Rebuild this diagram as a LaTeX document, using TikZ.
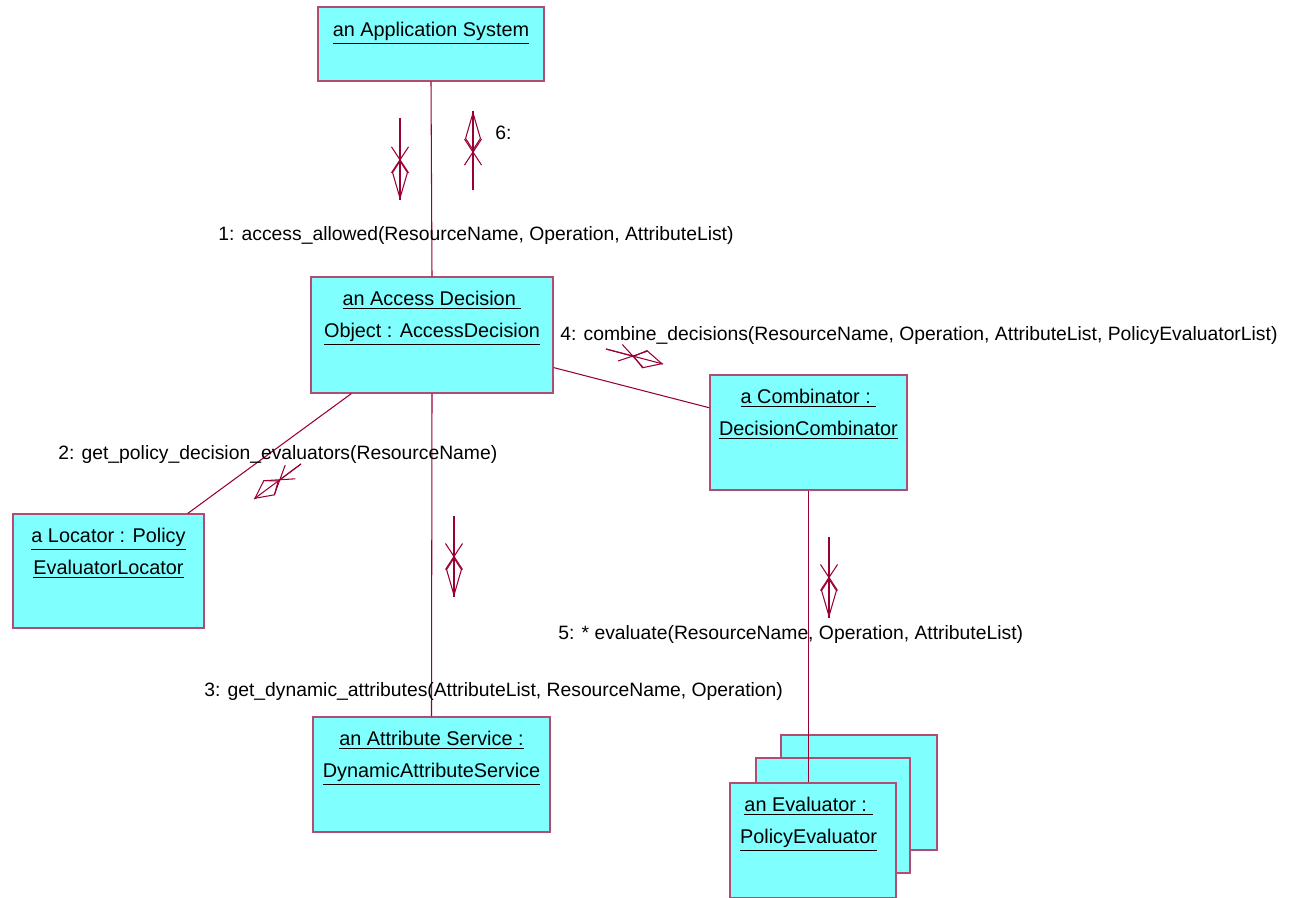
\documentclass[tikz,border=0pt]{standalone}
\usepackage{fontspec}
\setmainfont{Liberation Sans}
\usepackage{tikz}
\usetikzlibrary{arrows.meta, positioning, shapes.misc}
\definecolor{umlFill}{RGB}{128, 255, 255}
\definecolor{umlLine}{RGB}{153, 0, 51}
\definecolor{umlEdge}{RGB}{180, 75, 115}

\begin{document}
\begin{tikzpicture}[x=0.02cm, y=-0.02cm,
  obj/.style={rectangle, draw=umlEdge, fill=umlFill, line width=0.7pt, inner sep=0pt},
  objtxt/.style={align=center, inner sep=0pt, font=\fontsize{11.3}{18.2}\selectfont},
  lbl/.style={anchor=base west, inner sep=0pt, font=\fontsize{11}{13}\selectfont},
  link/.style={umlLine, line width=0.6pt},
  msgv/.style={umlLine, line width=0.6pt, -{Kite[open, length=0.8cm, width=0.32cm, inset=0.25cm]},
               postaction={draw, arrows=-}},
  msgd/.style={umlLine, line width=0.6pt, -{Kite[open, length=0.62cm, width=0.38cm, inset=0.24cm]},
               postaction={draw, arrows=-}},
  xmark/.style={cross out, draw=umlLine, line width=0.6pt, sloped, inner sep=0pt,
                minimum width=0.5cm, minimum height=0.32cm},
]
  \useasboundingbox (0,0) rectangle (1289,898);

  % Objects
  \node[obj, minimum width=4.52cm, minimum height=1.48cm] (app)  at (431,44)    {};
  \node[obj, minimum width=4.84cm, minimum height=2.32cm] (ado)  at (432,335)   {};
  \node[obj, minimum width=3.94cm, minimum height=2.30cm] (comb) at (808.5,432.5) {};
  \node[obj, minimum width=3.82cm, minimum height=2.28cm] (loc)  at (108.5,571) {};
  \node[obj, minimum width=4.74cm, minimum height=2.30cm] (attr) at (431.5,774.5) {};
  \node[obj, minimum width=3.12cm, minimum height=2.30cm] (eval3) at (859,792.5) {};
  \node[obj, minimum width=3.08cm, minimum height=2.30cm] (eval2) at (833,815.5) {};
  \node[obj, minimum width=3.32cm, minimum height=2.30cm] (eval1) at (813,840.5) {};

  \node[objtxt, below=0.31cm of app.north]   (apptxt)  {\underline{an Application System}};
  \node[objtxt, below=0.29cm of ado.north]   (adotxt)  {\underline{an Access Decision~}\\\underline{Object : AccessDecision}};
  \node[objtxt, below=0.29cm of comb.north]  (combtxt) {\underline{a Combinator :~}\\\underline{DecisionCombinator}};
  \node[objtxt, below=0.29cm of loc.north]   (loctxt)  {\underline{a Locator : Policy}\\\underline{EvaluatorLocator}};
  \node[objtxt, below=0.29cm of attr.north]  (attrtxt) {\underline{an Attribute Service :}\\\underline{DynamicAttributeService}};
  \node[objtxt, below=0.29cm of eval1.north, xshift=-0.09cm] (evaltxt) {\underline{an Evaluator :~}\\\underline{PolicyEvaluator}};

  % Links
  \draw[link] (app.south) -- (ado.north);
  \draw[link] (ado.-15) -- (comb.166);
  \draw[link] (ado.216) -- (loc.36);
  \draw[link] (ado.south) -- (attr.north);
  \draw[link] (comb.south) -- (comb.south |- eval1.north);

  % Messages
  \coordinate (m1s) at (400,118);   \coordinate (m1e) at (400,200);
  \coordinate (m6s) at (473,190);   \coordinate (m6e) at (473,111);
  \coordinate (m2s) at (301,464);   \coordinate (m2e) at (254,499);
  \coordinate (m3s) at (454,516);   \coordinate (m3e) at (454,597);
  \coordinate (m4s) at (606,349);   \coordinate (m4e) at (663,364);
  \coordinate (m5s) at (829,537);   \coordinate (m5e) at (829,618);

  \draw[msgv] (m1s) -- node[xmark, pos=0.51]{} (m1e);
  \draw[msgv] (m6s) -- node[xmark, pos=0.48]{} (m6e);
  \draw[msgd] (m2s) -- node[xmark, pos=0.45]{} (m2e);
  \draw[msgv] (m3s) -- node[xmark, pos=0.5]{} (m3e);
  \draw[msgd] (m4s) -- node[xmark, pos=0.47]{} (m4e);
  \draw[msgv] (m5s) -- node[xmark, pos=0.5]{} (m5e);

  % Labels
  \node[lbl] (l1) at (218,241) {1: access\_allowed(ResourceName, Operation, AttributeList)};
  \node[lbl] (l6) at (495,140) {6:};
  \node[lbl] (l2) at (58,460)  {2: get\_policy\_decision\_evaluators(ResourceName)};
  \node[lbl] (l3) at (204,696) {3: get\_dynamic\_attributes(AttributeList, ResourceName, Operation)};
  \node[lbl] (l4) at (560,341) {4: combine\_decisions(ResourceName, Operation, AttributeList, PolicyEvaluatorList)};
  \node[lbl] (l5) at (558,640) {5: * evaluate(ResourceName, Operation, AttributeList)};

\end{tikzpicture}
\end{document}
